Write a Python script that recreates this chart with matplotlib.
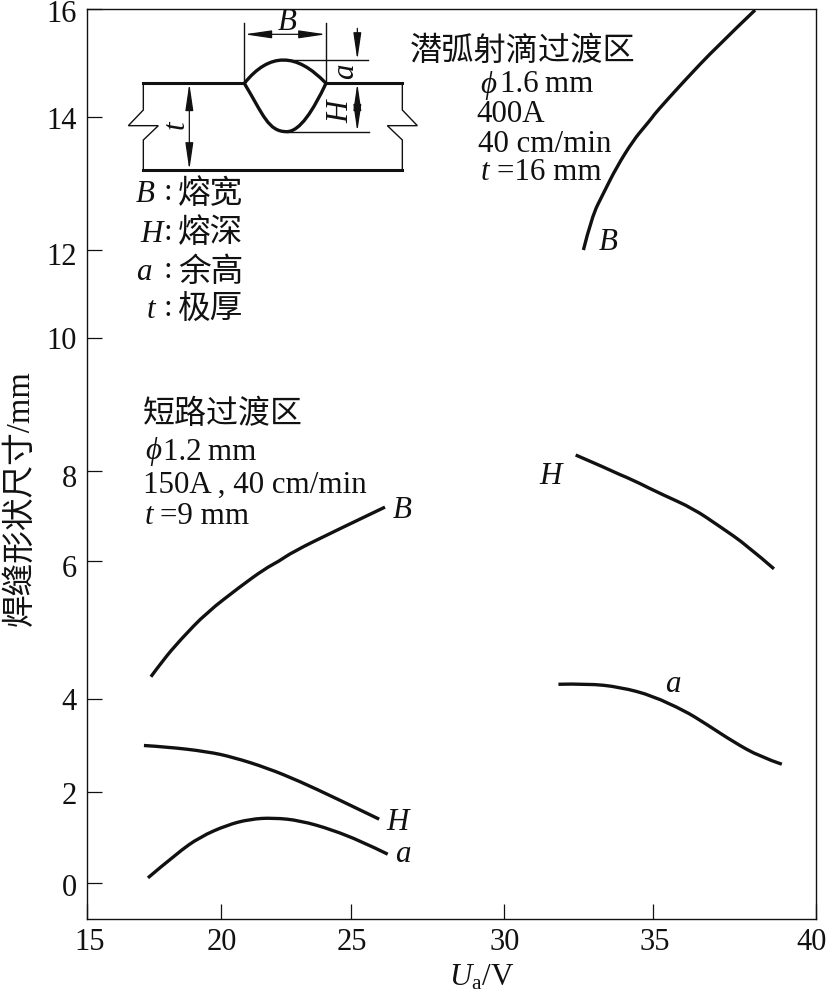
import numpy as np
import matplotlib
matplotlib.use("Agg")
import matplotlib.pyplot as plt
from matplotlib.path import Path
from matplotlib.patches import PathPatch
from matplotlib.transforms import ScaledTranslation

plt.rcParams['font.family'] = ['Liberation Serif', 'Noto Sans CJK SC']
plt.rcParams['mathtext.fontset'] = 'custom'
plt.rcParams['mathtext.rm'] = 'Liberation Serif'
plt.rcParams['mathtext.it'] = 'Liberation Serif:italic'

INK = '#111111'

# The printed axes are not evenly spaced, so tick spacing is taken from the picture
x_ticks = [15, 20, 25, 30, 35, 40]
x_tick_px = [86.5, 220.7, 351, 504, 652.7, 815.7]
y_ticks = [0, 2, 4, 6, 8, 10, 12, 14, 16]
y_bottom = -0.79
y_tick_px = [919.3, 883.3, 792.3, 698.7, 561.3, 471, 337.7, 250, 117, 9]

# short circuit region
short_b_x = [17.40, 17.85, 18.48, 19.49, 20.74, 21.69, 22.23, 22.77, 24.31, 26.11]
short_b_y = [4.32, 4.56, 4.85, 5.26, 5.63, 5.89, 6.0, 6.21, 6.65, 7.20]
short_h_x = [17.14, 18.0, 19.49, 20.47, 21.78, 23.05, 24.31, 25.92]
short_h_y = [3.0, 2.97, 2.87, 2.75, 2.52, 2.23, 1.90, 1.41]
short_a_x = [17.29, 18.37, 19.23, 20.24, 21.12, 22.01, 23.05, 24.31, 25.29, 26.2]
short_a_y = [0.12, 0.66, 1.02, 1.28, 1.41, 1.44, 1.38, 1.17, 0.94, 0.64]

# buried arc spray region
spray_b_x = [32.67, 32.95, 33.34, 33.79, 34.35, 34.74, 34.98, 35.12, 35.94, 36.96, 38.14]
spray_b_y = [12.0, 12.50, 12.85, 13.25, 13.65, 13.86, 13.99, 14.10, 14.65, 15.30, 15.98]
spray_h_x = [32.41, 33.45, 34.35, 35.32, 36.24, 37.06, 37.88, 38.72]
spray_h_y = [8.24, 8.04, 7.80, 7.47, 7.17, 6.77, 6.36, 5.89]
spray_a_x = [31.83, 32.80, 33.90, 35.02, 35.94, 36.66, 37.47, 38.29, 38.96]
spray_a_y = [4.21, 4.22, 4.17, 4.04, 3.76, 3.45, 3.08, 2.76, 2.60]


def warp_funcs(values, warp):
    values = np.asarray(values, dtype=float)
    warp = np.asarray(warp, dtype=float)
    return (lambda v: np.interp(v, values, warp),
            lambda w: np.interp(w, warp, values))


def smooth_path(xs, ys):
    # read points act as control points, so the pen does not kink at them
    pts = np.column_stack([xs, ys])
    verts = [pts[0]]
    codes = [Path.MOVETO]
    for i in range(1, len(pts) - 1):
        end = pts[i + 1] if i == len(pts) - 2 else (pts[i] + pts[i + 1]) / 2
        verts += [pts[i], end]
        codes += [Path.CURVE3, Path.CURVE3]
    return Path(verts, codes)


fig = plt.figure(figsize=(8.27, 9.94), dpi=100)
ax = fig.add_axes([86.5 / 827, (994 - 919.3) / 994,
                   (815.7 - 86.5) / 827, (919.3 - 9) / 994])
ax.set_xscale('function', functions=warp_funcs(x_ticks, x_tick_px))
ax.set_yscale('function', functions=warp_funcs([y_bottom] + y_ticks,
                                               -np.array(y_tick_px)))
ax.set_xlim(15, 40)
ax.set_ylim(y_bottom, 16)
ax.set_xticks(x_ticks, labels=[str(t) for t in x_ticks])
ax.set_yticks(y_ticks, labels=[str(t) for t in y_ticks])
ax.minorticks_off()
ax.tick_params(direction='in', length=11, width=0.9, color=INK,
               labelsize=22, labelcolor=INK)
ax.tick_params(axis='x', pad=6)
ax.tick_params(axis='y', pad=7)
for spine in ax.spines.values():
    spine.set_linewidth(1.0)
    spine.set_color(INK)

# the printed labels do not sit exactly on their ticks
x_label_shift = [3, 1, 1, 1, 2, -4]
y_label_shift = [-2, -1, 0, -5, -5, 0, -4, -1, -2]
for lab, dx in zip(ax.get_xticklabels(), x_label_shift):
    lab.set_transform(lab.get_transform()
                      + ScaledTranslation(dx / 100, 0, fig.dpi_scale_trans))
for lab, dy in zip(ax.get_yticklabels(), y_label_shift):
    lab.set_transform(lab.get_transform()
                      + ScaledTranslation(0, dy / 100, fig.dpi_scale_trans))

for xs, ys in [(short_b_x, short_b_y), (short_h_x, short_h_y),
               (short_a_x, short_a_y), (spray_b_x, spray_b_y),
               (spray_h_x, spray_h_y), (spray_a_x, spray_a_y)]:
    ax.add_patch(PathPatch(smooth_path(xs, ys), fill=False, ec=INK, lw=2.4,
                           capstyle='butt'))

# overlay in picture pixels for the sketch and the notes
ov = fig.add_axes([0, 0, 1, 1])
ov.set_xlim(0, 827)
ov.set_ylim(994, 0)
ov.axis('off')
ov.patch.set_alpha(0)


def note(x, y, s, size=22.3, **kw):
    kw.setdefault('va', 'center')
    kw.setdefault('ha', 'left')
    ov.text(x, y, s, fontsize=size, color=INK, **kw)


def z(px, py):
    return 100 + px / 3, py / 3


def zline(pts, lw=1.0):
    xy = np.array([z(*p) for p in pts])
    ov.plot(xy[:, 0], xy[:, 1], color=INK, lw=lw, solid_joinstyle='miter')


def arrow(p0, p1, style='<|-|>'):
    ov.annotate('', xy=z(*p1), xytext=z(*p0),
                arrowprops=dict(arrowstyle=style + ',head_length=1.5,head_width=0.22',
                                mutation_scale=11, color=INK, lw=0.9,
                                shrinkA=0, shrinkB=0))


zline([(130, 250), (433, 250)], 2.2)
zline([(678, 250), (907, 250)], 2.2)
zline([(130, 510), (907, 510)], 2.2)
zline([(130, 250), (130, 330), (85, 377), (175, 377), (130, 420), (130, 510)])
zline([(907, 250), (907, 330), (952, 377), (862, 377), (907, 420), (907, 510)])
zline([(433, 70), (433, 250)])
zline([(678, 70), (678, 250)])
zline([(545, 180), (805, 180)])
zline([(560, 395), (808, 395)])

top_arc = Path([z(433, 250), z(545, 110), z(678, 250)],
               [Path.MOVETO, Path.CURVE3, Path.CURVE3])
root_arc = Path([z(433, 250), z(490, 345), z(505, 395), z(560, 395),
                 z(600, 395), z(640, 330), z(678, 250)],
                [Path.MOVETO] + [Path.CURVE4] * 6)
for p in (top_arc, root_arc):
    ov.add_patch(PathPatch(p, fill=False, ec=INK, lw=2.4))

arrow((433, 103), (678, 103))
arrow((772, 85), (772, 180), '-|>')
arrow((772, 250), (772, 395))
arrow((268, 250), (268, 510))

note(*z(560, 68), 'B', style='italic', ha='center')
note(*z(738, 215), 'a', style='italic', ha='center', rotation=90)
note(*z(722, 335), 'H', style='italic', ha='center', rotation=90)
note(*z(228, 375), 't', style='italic', ha='center', rotation=90)

# key under the sketch
key_letters = ['B', 'H', 'a', 't']
key_names = ['熔宽', '熔深', '余高', '极厚']
key_right = [155, 163, 152, 155]
key_y = [193, 232, 271, 308]
for letter, name, xr, yy in zip(key_letters, key_names, key_right, key_y):
    note(xr, yy + 2, letter, style='italic', ha='right')
    note(168, yy, ':', ha='center')
    note(178, yy + 2, name, size=23.5)

# buried arc spray notes
note(410, 52, '潜弧射滴过渡区', size=23.2)
note(480, 85, 'ϕ', style='italic')
note(500, 85, '1.6\u2009mm')
note(476, 114, '400A')
note(478, 144, '40 cm/min')
note(481, 172, 't', style='italic')
note(497, 172, '=16 mm')

# short circuit notes
note(143, 415, '短路过渡区', size=23)
note(145, 452, 'ϕ', style='italic')
note(163, 452, '1.2\u2009mm')
note(143, 485, '150A , 40 cm/min')
note(145, 517, 't', style='italic')
note(160, 517, '=9 mm')

# curve labels
for x, y, s in [(402, 510, 'B'), (398, 822, 'H'), (403, 854, 'a'),
                (608, 242, 'B'), (551, 476, 'H'), (673, 685, 'a')]:
    note(x, y, s, style='italic', ha='center')

note(20, 498, '焊缝形状尺寸/mm', size=23.5, rotation=90, ha='center')
note(482, 978, r'$U_{\mathrm{a}}$/V', ha='center')

fig.savefig('out.png', dpi=100)
